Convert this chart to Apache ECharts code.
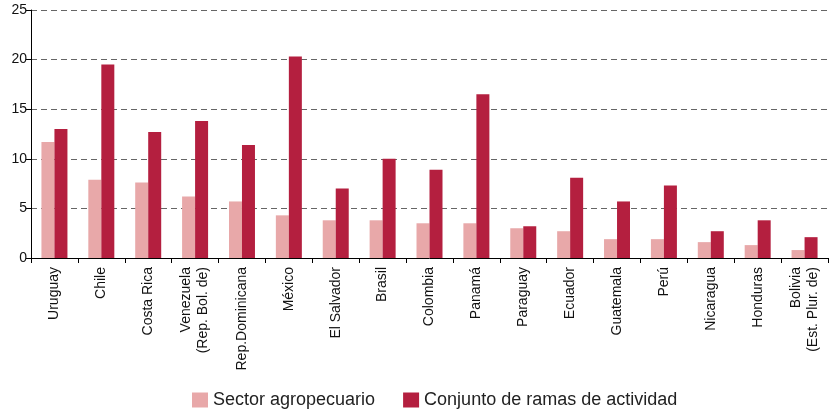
<!DOCTYPE html>
<html lang="es">
<head>
    <meta charset="UTF-8">
    <title>Sector agropecuario</title>
    <style>
        html, body { margin: 0; padding: 0; background: #fff; }
        #chart { width: 829px; height: 410px; }
    </style>
    <script src="https://cdn.jsdelivr.net/npm/echarts@6/dist/echarts.min.js"></script>
</head>
<body>
    <div id="chart"></div>
    <script>
        var countries = ['Uruguay', 'Chile', 'Costa Rica', 'Venezuela\n(Rep. Bol. de)', 'Rep.Dominicana',
            'México', 'El Salvador', 'Brasil', 'Colombia', 'Panamá', 'Paraguay', 'Ecuador',
            'Guatemala', 'Perú', 'Nicaragua', 'Honduras', 'Bolivia\n(Est. Plur. de)'];
        var agro = [11.7, 7.9, 7.6, 6.2, 5.7, 4.3, 3.8, 3.8, 3.5, 3.5, 3.0, 2.7, 1.9, 1.9, 1.6, 1.3, 0.8];
        var total = [13.0, 19.5, 12.7, 13.8, 11.4, 20.3, 7.0, 10.0, 8.9, 16.5, 3.2, 8.1, 5.7, 7.3, 2.7, 3.8, 2.1];
        var yTicks = [0, 5, 10, 15, 20, 25];

        var chart = echarts.init(document.getElementById('chart'));
        chart.setOption({
            animation: false,
            textStyle: { fontFamily: 'Liberation Sans, Arial, sans-serif' },
            grid: { left: 31, right: 1, top: 10, bottom: 152, containLabel: false },
            legend: {
                left: 187, top: 386,
                itemWidth: 16, itemHeight: 15, itemGap: 28,
                icon: 'rect',
                textStyle: { fontSize: 18, color: '#222' },
                data: ['Sector agropecuario', 'Conjunto de ramas de actividad']
            },
            xAxis: {
                type: 'category',
                data: countries,
                axisLine: { lineStyle: { color: '#000', width: 1 } },
                axisTick: { show: true, length: 5, lineStyle: { color: '#000' } },
                axisLabel: { rotate: 90, interval: 0, margin: 9, fontSize: 14, color: '#111', lineHeight: 17 }
            },
            yAxis: {
                type: 'value',
                min: yTicks[0], max: yTicks[yTicks.length - 1], interval: 5,
                axisLine: { show: true, lineStyle: { color: '#000', width: 1 } },
                axisTick: { show: true, length: 5, lineStyle: { color: '#000' } },
                axisLabel: { fontSize: 14, color: '#111', margin: 4 },
                splitLine: { show: true, lineStyle: { color: '#666', type: [6, 4], width: 1 } }
            },
            series: [
                {
                    name: 'Sector agropecuario', type: 'bar', data: agro,
                    barWidth: 13, barGap: '0%',
                    itemStyle: { color: '#e8a8a9' }
                },
                {
                    name: 'Conjunto de ramas de actividad', type: 'bar', data: total,
                    barWidth: 13, barGap: '0%',
                    itemStyle: { color: '#b41f3f' }
                }
            ]
        });
    </script>
</body>
</html>
